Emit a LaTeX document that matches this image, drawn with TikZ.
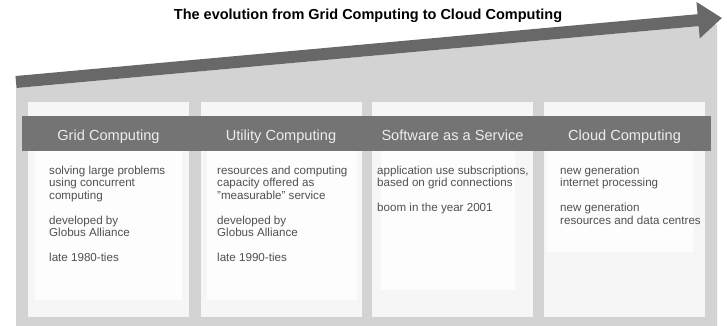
\documentclass[tikz,border=0pt]{standalone}
\usepackage{fontspec}
\setmainfont{Liberation Sans}
\usetikzlibrary{arrows.meta,positioning}

\definecolor{bggray}{HTML}{D3D3D3}
\definecolor{bandgray}{HTML}{686868}
\definecolor{headgray}{HTML}{747474}
\definecolor{headtext}{HTML}{EDEDED}
\definecolor{bodytext}{HTML}{505050}
\definecolor{panelfill}{HTML}{F6F6F6}
\definecolor{infill}{HTML}{FDFDFD}

\begin{document}
\begin{tikzpicture}[x=1pt,y=-1pt,
    panel/.style={fill=panelfill,inner sep=0,minimum width=161pt,minimum height=215pt},
    inbox/.style={fill=infill,inner sep=0},
    headband/.style={fill=headgray,inner sep=0,minimum width=689pt,minimum height=35pt},
    head/.style={text=headtext,inner sep=0,anchor=base,font=\fontsize{14.6}{16}\selectfont},
    txt/.style={text=bodytext,inner sep=0,anchor=north west,align=left,font=\fontsize{11.6}{12.5}\selectfont},
    band/.style={draw=bandgray,line width=12pt,-{Triangle[length=24pt,width=35pt]}}]
            \useasboundingbox (0,0) rectangle (727,326);
            
            % light background under the arrow
            \fill[bggray] (16,88) -- (717,24.4) -- (717,326) -- (16,326) -- cycle;
            
            \coordinate (start) at (16,82);
            \coordinate (tip) at (722,18);
            \draw[band] (start) -- (tip);
            
            \node[font=\bfseries\fontsize{14.5}{16}\selectfont,anchor=base,inner sep=0] (title) at (368,20) {The evolution from Grid Computing to Cloud Computing};
            
            \node[panel] (p1) at (108.5,209.5) {};
            \node[panel] (p2) at (281,209.5) {};
            \node[panel] (p3) at (452.5,209.5) {};
            \node[panel] (p4) at (624.5,209.5) {};
            
            \node[inbox,minimum width=147pt,minimum height=149pt] (w1) at (108.5,225.5) {};
            \node[inbox,minimum width=150pt,minimum height=149pt] (w2) at (282,225.5) {};
            \node[inbox,minimum width=134pt,minimum height=139pt] (w3) at (448,220.5) {};
            \node[inbox,minimum width=146pt,minimum height=101pt] (w4) at (620,201.5) {};
            
            \node[headband] (hb) at (366.5,133.5) {};
            
            \node[head] (h1) at (108.5,140) {Grid Computing};
            \node[head] (h2) at (281,140) {Utility Computing};
            \node[head] (h3) at (452.5,140) {Software as a Service};
            \node[head] (h4) at (624.5,140) {Cloud Computing};
            
            \node[txt] (t1) at (49,165.5) {solving large problems\\using concurrent\\computing\\[12.5pt]developed by\\Globus Alliance\\[12.5pt]late 1980-ties};
            \node[txt] (t2) at (217,165.5) {resources and computing\\capacity offered as\\\char34measurable\char34{} service\\[12.5pt]developed by\\Globus Alliance\\[12.5pt]late 1990-ties};
            \node[txt] (t3) at (377,165.5) {application use subscriptions,\\based on grid connections\\[12.5pt]boom in the year 2001};
            \node[txt] (t4) at (560,165.5) {new generation\\internet processing\\[12.5pt]new generation\\resources and data centres};
        \end{tikzpicture}
\end{document}
